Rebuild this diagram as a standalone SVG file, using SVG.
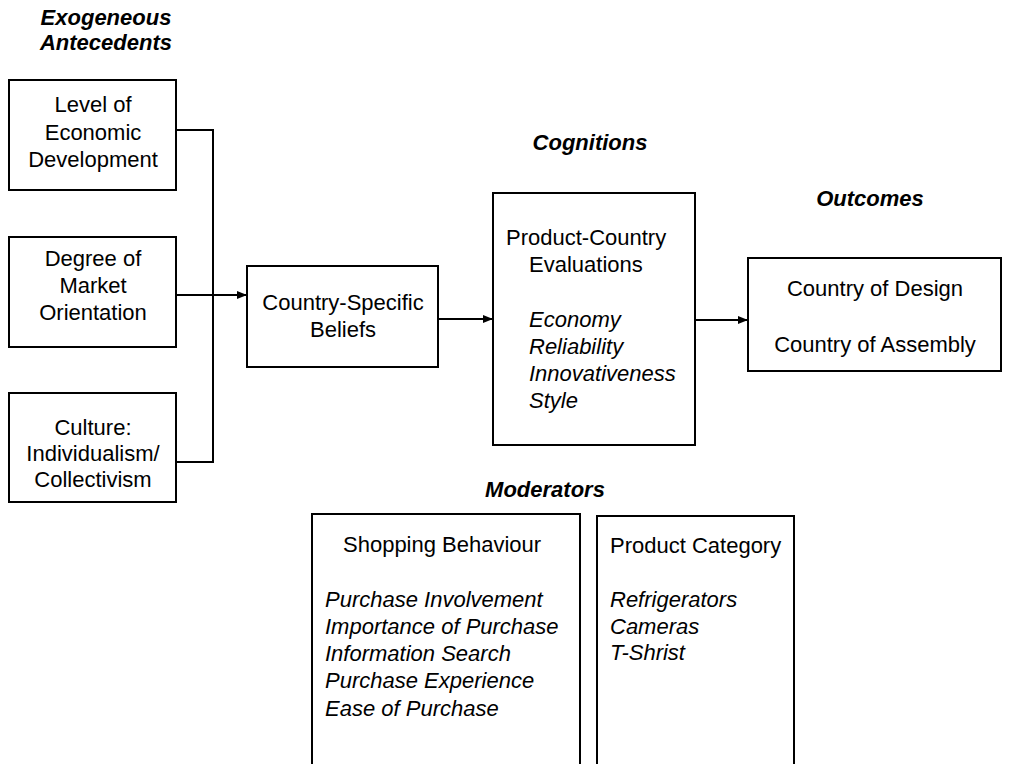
<svg xmlns="http://www.w3.org/2000/svg" width="1017" height="764" viewBox="0 0 1017 764">
<defs>
<style>
text{font-family:"Liberation Sans",Arial,sans-serif;font-size:22px;fill:#000}
.h{font-weight:bold;font-style:italic;font-size:22px}
.i{font-style:italic}
.c{text-anchor:middle}
.box{fill:#fff;stroke:#000;stroke-width:2}
.ln{fill:none;stroke:#000;stroke-width:2}
</style>
<marker id="arr" viewBox="0 0 10 10" refX="10" refY="5" markerWidth="10" markerHeight="10" markerUnits="userSpaceOnUse" orient="auto">
<path d="M0,1 L10,5 L0,9 z" fill="#000"/>
</marker>
</defs>
<rect width="1017" height="764" fill="#fff"/>

<g id="headers">
<text class="h c" x="106" y="25">Exogeneous</text>
<text class="h c" x="106" y="50">Antecedents</text>
<text class="h c" x="590" y="150">Cognitions</text>
<text class="h c" x="870" y="206">Outcomes</text>
<text class="h c" x="545" y="497">Moderators</text>
</g>

<g id="connectors">
<polyline class="ln" points="176,130 213,130 213,462 176,462"/>
<line class="ln" x1="176" y1="295" x2="247" y2="295" marker-end="url(#arr)"/>
<line class="ln" x1="438" y1="319" x2="493" y2="319" marker-end="url(#arr)"/>
<line class="ln" x1="695" y1="320" x2="748" y2="320" marker-end="url(#arr)"/>
</g>

<g id="level">
<rect class="box" x="9" y="80" width="167" height="110"/>
<text class="c" x="93" y="112">Level of</text>
<text class="c" x="93" y="140">Economic</text>
<text class="c" x="93" y="167">Development</text>
</g>

<g id="market">
<rect class="box" x="9" y="237" width="167" height="110"/>
<text class="c" x="93" y="266">Degree of</text>
<text class="c" x="93" y="293">Market</text>
<text class="c" x="93" y="320">Orientation</text>
</g>

<g id="culture">
<rect class="box" x="9" y="393" width="167" height="109"/>
<text class="c" x="93" y="435">Culture:</text>
<text class="c" x="93" y="461">Individualism/</text>
<text class="c" x="93" y="487">Collectivism</text>
</g>

<g id="beliefs">
<rect class="box" x="247" y="266" width="191" height="101"/>
<text class="c" x="343" y="310">Country-Specific</text>
<text class="c" x="343" y="337">Beliefs</text>
</g>

<g id="evaluations">
<rect class="box" x="493" y="193" width="202" height="252"/>
<text x="506" y="245">Product-Country</text>
<text x="529" y="272">Evaluations</text>
<text class="i" x="529" y="327">Economy</text>
<text class="i" x="529" y="354">Reliability</text>
<text class="i" x="529" y="381">Innovativeness</text>
<text class="i" x="529" y="408">Style</text>
</g>

<g id="outcomes">
<rect class="box" x="748" y="258" width="253" height="113"/>
<text class="c" x="875" y="296">Country of Design</text>
<text class="c" x="875" y="352">Country of Assembly</text>
</g>

<g id="shopping">
<rect class="box" x="312" y="514" width="268" height="270"/>
<text x="343" y="552">Shopping Behaviour</text>
<text class="i" x="325" y="607">Purchase Involvement</text>
<text class="i" x="325" y="634">Importance of Purchase</text>
<text class="i" x="325" y="661">Information Search</text>
<text class="i" x="325" y="688">Purchase Experience</text>
<text class="i" x="325" y="716">Ease of Purchase</text>
</g>

<g id="category">
<rect class="box" x="597" y="516" width="197" height="268"/>
<text x="610" y="553">Product Category</text>
<text class="i" x="610" y="607">Refrigerators</text>
<text class="i" x="610" y="634">Cameras</text>
<text class="i" x="610" y="660">T-Shrist</text>
</g>
</svg>
